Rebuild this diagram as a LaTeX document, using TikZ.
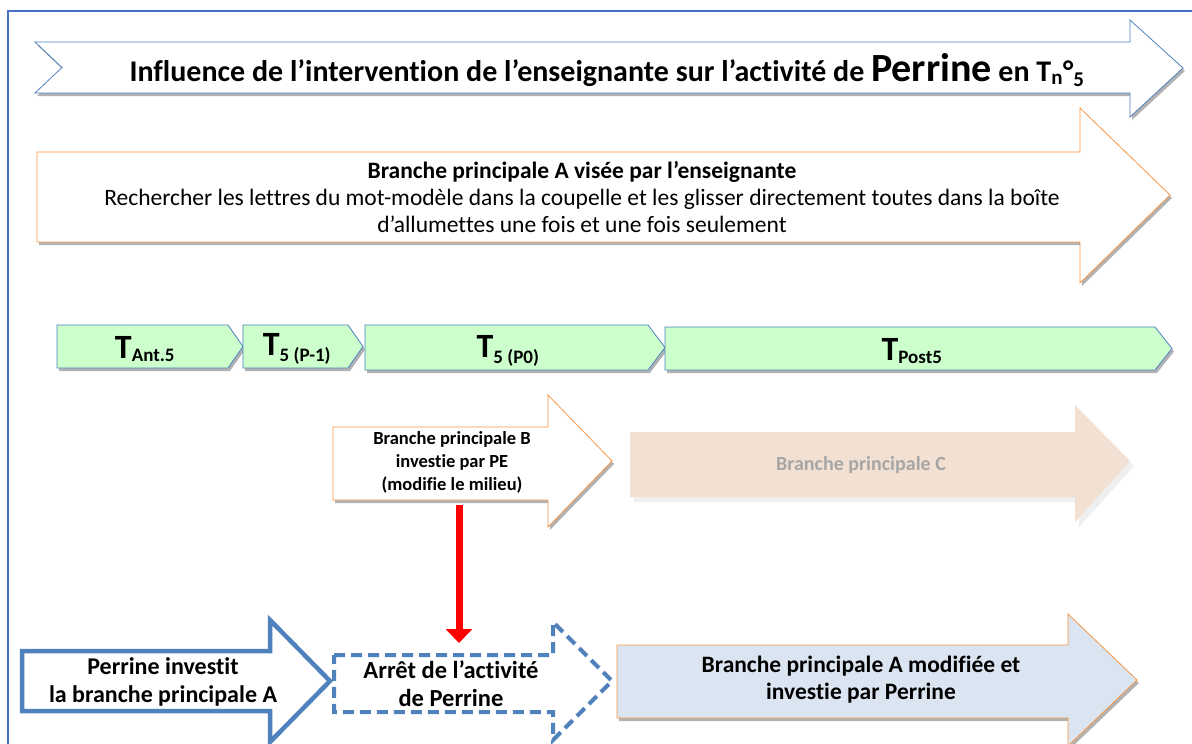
\documentclass[tikz,border=0pt]{standalone}
\usepackage{fontspec}
\setmainfont{Carlito}[Ligatures=NoCommon]
\usetikzlibrary{shadows,arrows.meta}
\definecolor{frameblue}{RGB}{68,114,196}
\definecolor{darkblue}{RGB}{79,129,189}
\definecolor{orangeln}{RGB}{247,150,70}
\definecolor{greenfill}{RGB}{204,255,204}
\definecolor{peach}{RGB}{242,224,210}
\definecolor{lightblue}{RGB}{219,229,241}
\definecolor{grayt}{RGB}{166,166,166}
\tikzset{
  shad/.style={drop shadow={shadow xshift=2pt,shadow yshift=-3pt,opacity=0.3,fill=black}},
  titlearrow/.style={draw=darkblue,line width=0.8pt,fill=white,shad},
  orarrow/.style={draw=orangeln,line width=0.8pt,fill=white,shad},
  tstep/.style={draw=darkblue,line width=0.8pt,fill=greenfill,shad},
  fadearrow/.style={fill=peach,draw=none},
  bluearrow/.style={draw=darkblue,line width=4.5pt,fill=white,line join=miter},
  dasharrow/.style={draw=darkblue,line width=4pt,dash pattern=on 11pt off 6pt,fill=white},
  modarrow/.style={draw=orangeln,line width=0.8pt,fill=lightblue,shad},
  txt/.style={align=center,font=\bfseries,inner sep=0pt},
}
\begin{document}
\begin{tikzpicture}[x=1pt,y=-1pt]
\useasboundingbox (0,0) rectangle (1192,744);
\fill[white] (0,0) rectangle (1192,744);
% frame
\draw[frameblue,line width=1.2pt] (8,744) -- (8,11) -- (1192,11);
% title arrow
\draw[titlearrow] (35,42) -- (1130,42) -- (1130,20) -- (1183,68) -- (1130,117) -- (1130,93) -- (35,93) -- (62,67.5) -- cycle;
\node[txt,font=\bfseries\fontsize{30}{34}\selectfont,anchor=base] (title) at (607,81)
 {Influence de l’intervention de l’enseignante sur l’activité de {\fontsize{40}{44}\selectfont Perrine} en T\textsubscript{n}°\textsubscript{5}};
% branch A
\draw[orarrow] (37,152) -- (1080,152) -- (1080,108) -- (1170,195) -- (1080,283) -- (1080,242) -- (37,242) -- cycle;
\node[align=center,inner sep=0pt,font=\fontsize{23.5}{27}\selectfont] (brA) at (582,197)
 {\textbf{Branche principale A visée par l’enseignante}\\
 Rechercher les lettres du mot-modèle dans la coupelle et les glisser directement toutes dans la boîte\\
 d’allumettes une fois et une fois seulement};
% timeline
\draw[tstep] (57,325) -- (228,325) -- (243,346.5) -- (228,368) -- (57,368) -- cycle;
\draw[tstep] (243,325) -- (348,325) -- (363,346.5) -- (348,368) -- (243,368) -- cycle;
\draw[tstep] (365,325) -- (648,325) -- (665,347.5) -- (648,370) -- (365,370) -- cycle;
\draw[tstep] (665,327) -- (1155,327) -- (1172,348.5) -- (1155,370) -- (665,370) -- cycle;
\tikzset{tfont/.style={txt,font=\bfseries\fontsize{34}{36}\selectfont}}
\node[tfont] (t1) at (145,349) {T\textsubscript{\fontsize{19}{21}\selectfont Ant.5}};
\node[tfont] (t2) at (297,349) {T\textsubscript{\fontsize{19}{21}\selectfont 5 (P-1)}};
\node[tfont] (t3) at (508,351) {T\textsubscript{\fontsize{19}{21}\selectfont 5 (P0)}};
\node[tfont] (t4) at (912,351) {T\textsubscript{\fontsize{19}{21}\selectfont Post5}};
% branch C faded
\begin{scope}[opacity=0.6]
\fill[black!10] (634,437) -- (1079,437) -- (1079,410) -- (1134,466) -- (1079,527) -- (1079,502) -- (634,502) -- cycle;
\end{scope}
\fill[fadearrow] (630,432) -- (1075,432) -- (1075,405) -- (1130,461) -- (1075,522) -- (1075,497) -- (630,497) -- cycle;
\node[txt,text=grayt,font=\bfseries\fontsize{20}{22}\selectfont] (brC) at (861,465) {Branche principale C};
% branch B
\draw[orarrow] (333,427) -- (548,427) -- (548,395) -- (612,461) -- (548,527) -- (548,500) -- (333,500) -- cycle;
\node[txt,font=\bfseries\fontsize{18.5}{23}\selectfont] (brB) at (452,462)
 {Branche principale B\\investie par PE\\(modifie le milieu)};
% bottom arrows
\draw[bluearrow] (22,651) -- (270,651) -- (270,620) -- (330,681) -- (270,742) -- (270,711) -- (22,711) -- cycle;
\node[txt,font=\bfseries\fontsize{24}{28}\selectfont] (perr) at (163,682)
 {Perrine investit\\la branche principale A};
\draw[dasharrow] (334,655) -- (553,655) -- (553,622) -- (612,681) -- (553,740) -- (553,712) -- (334,712) -- cycle;
\node[txt,font=\bfseries\fontsize{24.5}{28}\selectfont] (arret) at (451,684)
 {Arrêt de l’activité\\de Perrine};
\draw[modarrow] (617,645) -- (1068,645) -- (1068,614) -- (1137,680) -- (1068,746) -- (1068,718) -- (617,718) -- cycle;
\node[txt,font=\bfseries\fontsize{23.5}{27}\selectfont] (brAm) at (861,680)
 {Branche principale A modifiée et\\investie par Perrine};
% red arrow
\coordinate (rs) at (459,505);
\coordinate (re) at (459,643);
\draw[red,line width=7pt,-{Triangle[length=14pt,width=26pt]}] (rs) -- (re);
\end{tikzpicture}
\end{document}
